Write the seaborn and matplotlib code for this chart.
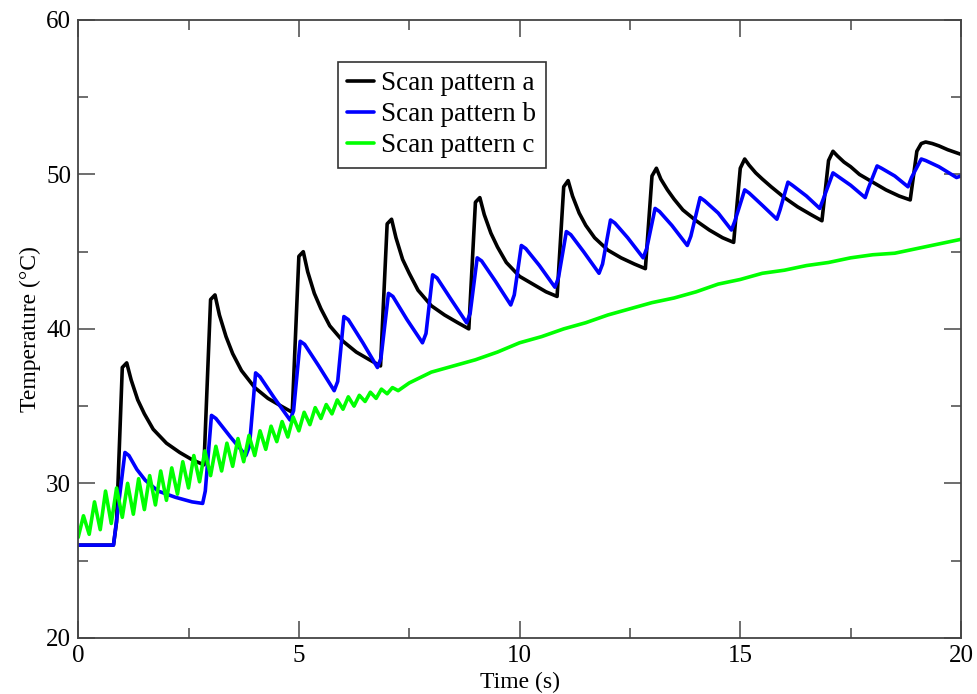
import matplotlib
matplotlib.use("Agg")
import matplotlib.pyplot as plt
from matplotlib.ticker import MultipleLocator
import seaborn as sns

# scan pattern a (black)
time_a = [0.0, 0.8, 0.87,
          1.0, 1.1, 1.2, 1.35, 1.5, 1.7, 2.0, 2.3, 2.6, 2.85,
          3.0, 3.1, 3.2, 3.35, 3.5, 3.7, 4.0, 4.3, 4.6, 4.85,
          5.0, 5.1, 5.2, 5.35, 5.5, 5.7, 6.0, 6.3, 6.6, 6.85,
          7.0, 7.1, 7.2, 7.35, 7.5, 7.7, 8.0, 8.3, 8.6, 8.85,
          9.0, 9.1, 9.2, 9.35, 9.5, 9.7, 10.0, 10.3, 10.6, 10.85,
          11.0, 11.1, 11.2, 11.35, 11.5, 11.7, 12.0, 12.3, 12.6, 12.85,
          13.0, 13.1, 13.2, 13.35, 13.5, 13.7, 14.0, 14.3, 14.6, 14.85,
          15.0, 15.1, 15.2, 15.35, 15.5, 15.7, 16.0, 16.3, 16.6, 16.85,
          17.0, 17.1, 17.2, 17.35, 17.5, 17.7, 18.0, 18.3, 18.6, 18.85,
          19.0, 19.1, 19.2, 19.35, 19.5, 19.7, 20.0]
temp_a = [26.0, 26.0, 27.5,
          37.5, 37.8, 36.7, 35.4, 34.5, 33.5, 32.6, 32.0, 31.5, 31.2,
          41.9, 42.2, 40.9, 39.5, 38.4, 37.3, 36.2, 35.5, 35.0, 34.6,
          44.7, 45.0, 43.7, 42.3, 41.3, 40.2, 39.2, 38.5, 38.0, 37.6,
          46.8, 47.1, 45.9, 44.5, 43.6, 42.5, 41.5, 40.9, 40.4, 40.0,
          48.2, 48.5, 47.4, 46.2, 45.3, 44.3, 43.4, 42.9, 42.4, 42.1,
          49.2, 49.6, 48.6, 47.5, 46.7, 45.9, 45.1, 44.6, 44.2, 43.9,
          49.9, 50.4, 49.7, 49.0, 48.4, 47.7, 47.0, 46.4, 45.9, 45.6,
          50.4, 51.0, 50.6, 50.1, 49.7, 49.2, 48.5, 47.9, 47.4, 47.0,
          50.9, 51.5, 51.2, 50.8, 50.5, 50.0, 49.5, 49.0, 48.6, 48.35,
          51.5, 52.0, 52.1, 52.0, 51.85, 51.6, 51.3]

# scan pattern b (blue)
time_b = [0.0, 0.8, 0.88, 1.06, 1.15, 1.33, 1.52, 1.81, 2.2, 2.58, 2.82, 2.88,
          3.02, 3.12, 3.45, 3.8, 3.88,
          4.02, 4.12, 4.45, 4.8, 4.88,
          5.03, 5.13, 5.45, 5.8, 5.88,
          6.02, 6.12, 6.45, 6.78, 6.86,
          7.03, 7.13, 7.45, 7.8, 7.88,
          8.03, 8.13, 8.45, 8.8, 8.88,
          9.04, 9.14, 9.45, 9.8, 9.88,
          10.04, 10.14, 10.45, 10.8, 10.88,
          11.06, 11.16, 11.45, 11.8, 11.88,
          12.06, 12.16, 12.45, 12.8, 12.88,
          13.07, 13.17, 13.45, 13.8, 13.88,
          14.09, 14.19, 14.5, 14.8, 14.88,
          15.1, 15.2, 15.5, 15.83, 15.9,
          16.08, 16.18, 16.5, 16.8, 16.88,
          17.1, 17.2, 17.5, 17.83, 17.9,
          18.1, 18.2, 18.5, 18.8, 18.88,
          19.1, 19.2, 19.5, 19.9, 20.0]
temp_b = [26.0, 26.0, 27.8, 32.0, 31.8, 30.9, 30.2, 29.5, 29.1, 28.8, 28.7, 29.5,
          34.4, 34.2, 33.0, 31.8, 32.4,
          37.15, 36.9, 35.5, 34.1, 34.7,
          39.2, 39.0, 37.6, 36.0, 36.6,
          40.8, 40.6, 39.1, 37.5, 38.1,
          42.3, 42.1, 40.6, 39.1, 39.7,
          43.5, 43.3, 41.9, 40.4, 41.0,
          44.6, 44.4, 43.1, 41.55, 42.2,
          45.4, 45.2, 44.1, 42.7, 43.3,
          46.3, 46.1, 45.0, 43.6, 44.2,
          47.05, 46.85, 45.9, 44.6, 45.2,
          47.8, 47.6, 46.7, 45.4, 46.0,
          48.5, 48.3, 47.5, 46.4, 47.0,
          49.0, 48.8, 48.0, 47.1, 47.7,
          49.5, 49.3, 48.6, 47.8, 48.4,
          50.1, 49.9, 49.3, 48.5, 49.1,
          50.55, 50.4, 49.9, 49.2, 49.8,
          51.0, 50.9, 50.5, 49.8, 49.9]

# scan pattern c (green)
time_c = [0.0, 0.12, 0.25, 0.37, 0.5, 0.62, 0.75, 0.87,
          1.0, 1.12, 1.25, 1.37, 1.5, 1.62, 1.75, 1.87,
          2.0, 2.12, 2.25, 2.37, 2.5, 2.62, 2.75, 2.87,
          3.0, 3.12, 3.25, 3.37, 3.5, 3.62, 3.75, 3.87,
          4.0, 4.12, 4.25, 4.37, 4.5, 4.62, 4.75, 4.87,
          5.0, 5.12, 5.25, 5.37, 5.5, 5.62, 5.75, 5.87,
          6.0, 6.12, 6.25, 6.37, 6.5, 6.62, 6.75, 6.87,
          7.0, 7.12, 7.25, 7.5, 8.0, 8.5, 9.0, 9.5,
          10.0, 10.5, 11.0, 11.5, 12.0, 12.5, 13.0, 13.5,
          14.0, 14.5, 15.0, 15.5, 16.0, 16.5, 17.0, 17.5,
          18.0, 18.5, 19.0, 19.5, 20.0]
temp_c = [26.5, 27.9, 26.7, 28.8, 27.0, 29.5, 27.4, 29.7,
          27.8, 30.0, 28.0, 30.3, 28.3, 30.5, 28.6, 30.8,
          28.9, 31.0, 29.3, 31.4, 29.7, 31.8, 30.1, 32.1,
          30.5, 32.4, 30.8, 32.6, 31.1, 32.9, 31.4, 33.1,
          31.8, 33.4, 32.2, 33.7, 32.7, 34.0, 33.0, 34.3,
          33.4, 34.6, 33.8, 34.9, 34.2, 35.1, 34.5, 35.4,
          34.8, 35.6, 35.0, 35.7, 35.3, 35.9, 35.5, 36.1,
          35.8, 36.2, 36.0, 36.5, 37.2, 37.6, 38.0, 38.5,
          39.1, 39.5, 40.0, 40.4, 40.9, 41.3, 41.7, 42.0,
          42.4, 42.9, 43.2, 43.6, 43.8, 44.1, 44.3, 44.6,
          44.8, 44.9, 45.2, 45.5, 45.8]

sns.set_style("ticks")
plt.rcParams["font.family"] = ["Liberation Serif", "DejaVu Serif"]
plt.rcParams["text.color"] = "black"
plt.rcParams["axes.labelcolor"] = "black"
plt.rcParams["xtick.labelcolor"] = "black"
plt.rcParams["ytick.labelcolor"] = "black"

fig, ax = plt.subplots(figsize=(9.77, 6.94), dpi=100)
fig.subplots_adjust(left=0.08, right=0.9836, bottom=0.081, top=0.9712)

sns.lineplot(x=time_a, y=temp_a, color="black", lw=2.6, label="Scan pattern a",
             estimator=None, sort=False, ax=ax)
sns.lineplot(x=time_b, y=temp_b, color="#0000ff", lw=2.6, label="Scan pattern b",
             estimator=None, sort=False, ax=ax)
sns.lineplot(x=time_c, y=temp_c, color="#00ff00", lw=2.6, label="Scan pattern c",
             estimator=None, sort=False, ax=ax)

ax.set_xlim(0, 20)
ax.set_ylim(20, 60)
ax.xaxis.set_major_locator(MultipleLocator(5))
ax.xaxis.set_minor_locator(MultipleLocator(2.5))
ax.yaxis.set_major_locator(MultipleLocator(10))
ax.yaxis.set_minor_locator(MultipleLocator(5))
ax.tick_params(which="both", direction="in", top=True, right=True,
               color="#555555", width=1.2, labelsize=18)
ax.tick_params(which="major", length=12, pad=5)
ax.tick_params(which="minor", length=7)
for s in ax.spines.values():
    s.set_visible(True)
    s.set_color("#444444")
    s.set_linewidth(1.3)

ax.set_xlabel("Time (s)", fontsize=17, labelpad=4)
ax.set_ylabel("Temperature (°C)", fontsize=17, labelpad=4)

leg = ax.legend(loc="upper left", bbox_to_anchor=(0.294, 0.932), fontsize=19.5,
                handlelength=1.0, handletextpad=0.25, borderpad=0.35,
                borderaxespad=0, labelspacing=0.22, fancybox=False,
                framealpha=1, edgecolor="#333333")
leg.get_frame().set_linewidth(1.2)

fig.savefig("out.png", dpi=100)
